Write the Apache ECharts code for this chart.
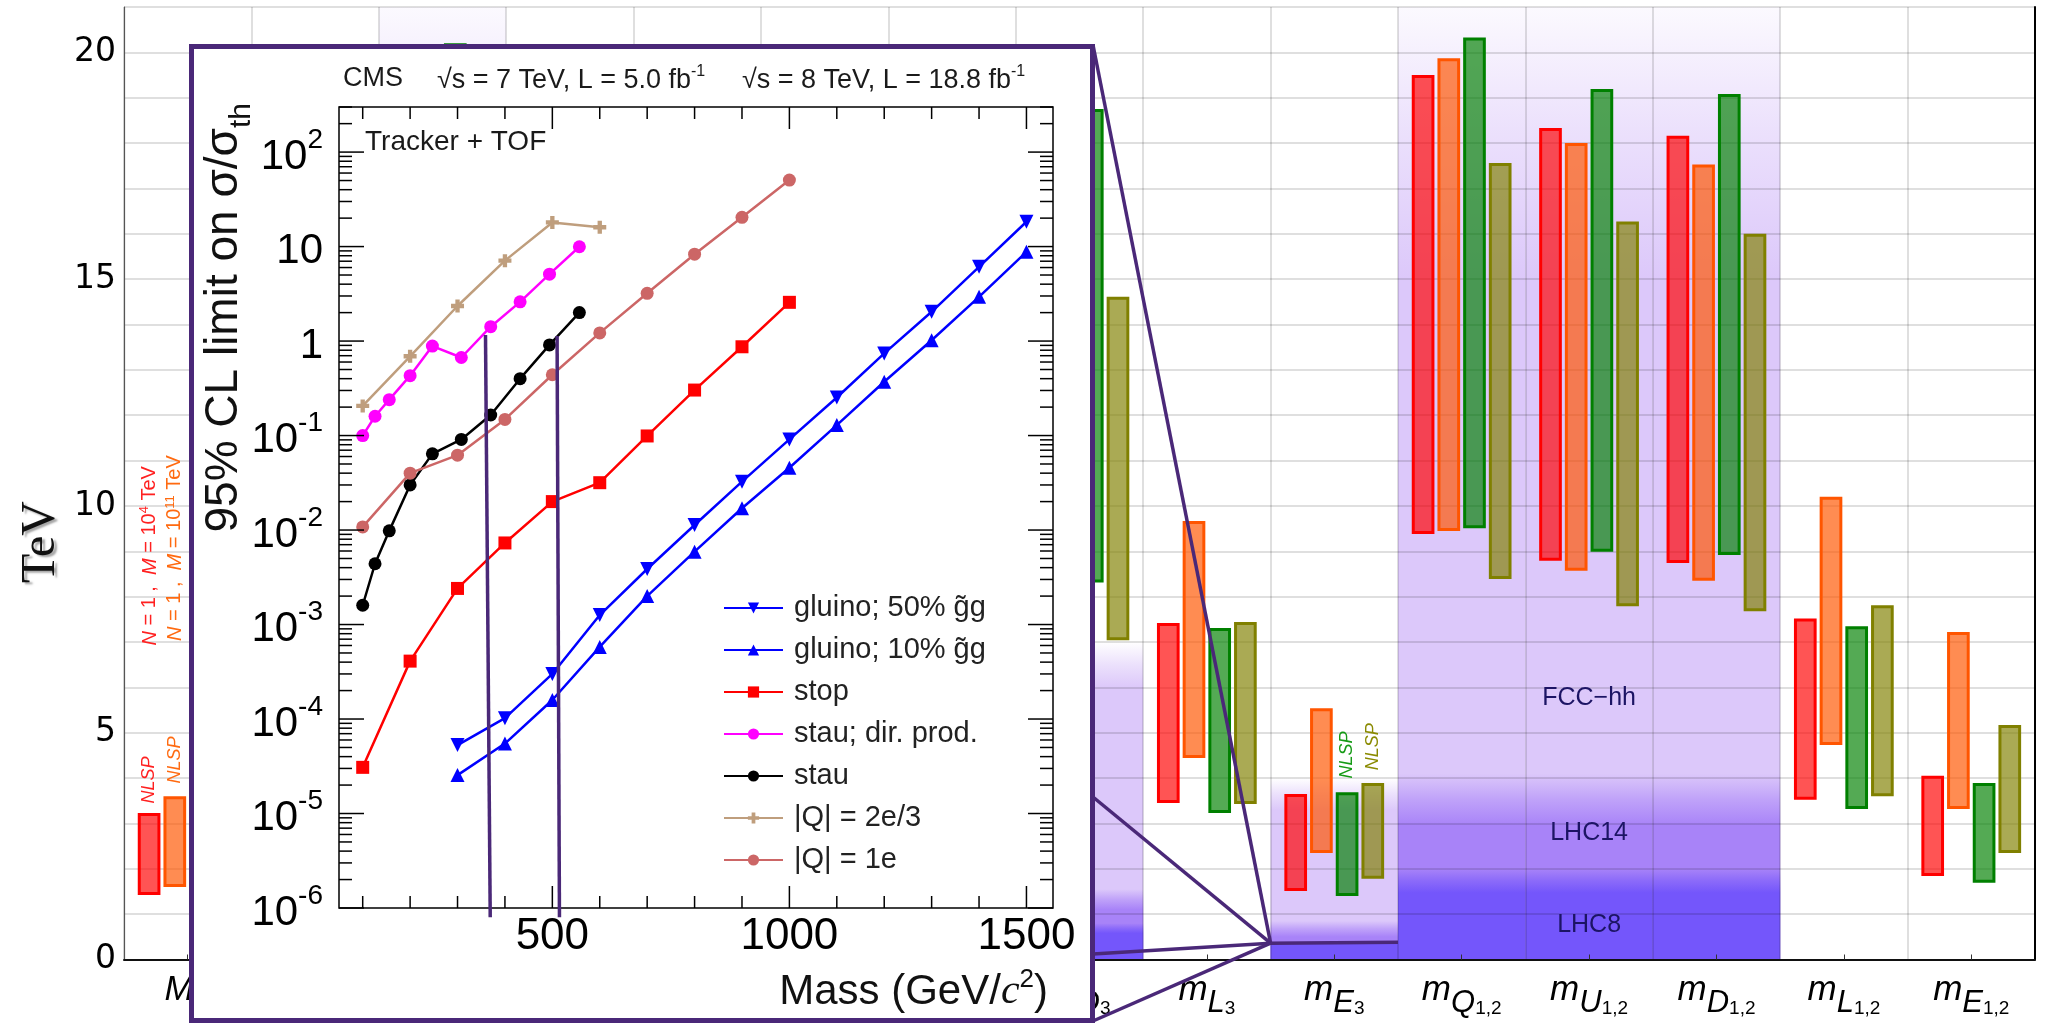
<!DOCTYPE html>
<html><head><meta charset="utf-8">
<script src="https://cdn.jsdelivr.net/npm/echarts@6/dist/echarts.min.js"></script>
<style>html,body{margin:0;padding:0;background:#fff}#c{width:2053px;height:1027px}</style>
</head><body><div id="c"></div>
<script>
// ================= MAIN CHART DATA =================
const catSym    = ['M','M','M','\u03bc','m','m','m','m','m','m','m','m','m','m','m'];
const catSub    = ['1','2','3','','A','Q','U','D','L','E','Q','U','D','L','E'];
const catSubSub = ['','','','','','3','3','3','3','3','1,2','1,2','1,2','1,2','1,2'];

// floating bars (TeV): low / high edge per category
const redLo = [1.42,2.6,8.0,3.0,3.0,7.5,7.0,8.0,3.45,1.51,9.38,8.79,8.74,3.52,1.84];
const redHi = [3.23,5.6,17.5,9.0,9.0,16.0,15.5,17.0,7.42,3.65,19.5,18.33,18.16,7.52,4.05];
const oraLo = [1.6,2.9,8.3,3.2,3.2,7.2,6.8,7.5,4.44,2.35,9.45,8.57,8.35,4.73,3.32];
const oraHi = [3.6,6.3,18.5,10.0,10.0,16.5,15.5,16.5,9.67,5.54,19.87,18.0,17.53,10.2,7.22];
const grnLo = [1.5,2.7,9.0,3.2,3.2,8.0,7.5,8.31,3.23,1.40,9.51,8.99,8.92,3.32,1.69];
const grnHi = [3.3,5.8,20.2,9.0,9.0,17.5,16.5,18.75,7.31,3.69,20.33,19.19,19.08,7.35,3.89];
const olvLo = [1.7,3.0,7.5,3.3,3.3,6.5,6.0,7.04,3.43,1.78,8.39,7.79,7.68,3.6,2.35];
const olvHi = [3.5,6.3,16.0,8.5,8.5,14.0,13.0,14.61,7.44,3.89,17.56,16.27,16.0,7.81,5.17];

// collider reach shading (TeV): fade start (hi) -> full colour (lo)
const fccHi  = [null,null,21.6,null,null,8.0,8.0,7.0,null,4.0,21.6,21.6,21.6,null,null];
const fccLo  = [null,null,15.0,null,null,7.0,7.0,6.0,null,3.3,15.0,15.0,15.0,null,null];
const l14Hi  = [null,null,4.1,null,null,2.0,2.0,1.55,null,0.85,4.1,4.1,4.1,null,null];
const l14Lo  = [null,null,2.95,null,null,1.5,1.5,1.1,null,0.5,2.95,2.95,2.95,null,null];
const l8Hi   = [null,null,2.0,null,null,1.0,1.0,0.8,null,0.40,2.0,2.0,2.0,null,null];
const l8Lo   = [null,null,1.47,null,null,0.8,0.8,0.58,null,0.36,1.47,1.47,1.47,null,null];

const regionNames = ['FCC\u2212hh','LHC14','LHC8'];
const regionCat = 11;
const regionY = [5.77,2.79,0.76];

// annotations: [category, bar index, TeV position, text id]
const annCat  = [0,0,9,9,0,0];
const annBar  = [0,1,2,3,0,1];
const annY    = [3.96,4.4,4.51,4.69,8.9,9.07];
const annText = ['NLSP','NLSP','NLSP','NLSP','{i|N} = 1 ,  {i|M} = 10{p|4} TeV','{i|N} = 1 ,  {i|M} = 10{p|11} TeV'];
const annColor= ['#ff2020','#ff6a10','#159a15','#8a8a00','#ff2020','#ff6a10'];

// ================= INSET (CMS) DATA =================
const gluMass  = [300,400,500,600,700,800,900,1000,1100,1200,1300,1400,1500];
const glu50Lim = [5.3e-5,1.02e-4,3.0e-4,1.26e-3,3.87e-3,0.0113,0.0325,0.091,0.253,0.74,2.04,6.1,18.3];
const glu10Lim = [2.55e-5,5.5e-5,1.59e-4,5.8e-4,2.0e-3,5.9e-3,0.017,0.0456,0.129,0.371,1.02,2.94,8.8];
const stopMass = [100,200,300,400,500,600,700,800,900,1000];
const stopLim  = [3.08e-5,4.1e-4,2.41e-3,7.3e-3,0.020,0.0317,0.099,0.303,0.87,2.57];
const stauMass = [100,126,156,200,247,308,370,432,494,557];
const stauDirLim = [0.10,0.16,0.24,0.43,0.885,0.67,1.42,2.6,5.1,9.95];
const stauLim  = [0.0016,0.0044,0.0098,0.030,0.064,0.091,0.165,0.40,0.91,2.0];
const q23Mass  = [100,200,300,400,500,600];
const q23Lim   = [0.206,0.69,2.35,7.1,18,16];
const q1Mass   = [100,200,300,400,500,600,700,800,900,1000];
const q1Lim    = [0.0108,0.040,0.062,0.148,0.44,1.22,3.2,8.3,20.4,50.6];
const insetNames = ['gluino; 50% g\u0303g','gluino; 10% g\u0303g','stop','stau; dir. prod.','stau','|Q| = 2e/3','|Q| = 1e'];
// stau mass-limit guide lines: [m1, lim1, m2, lim2]
const limitLines = [[359,1.16,369,8e-7],[510,1.13,515,8e-7]];
const IX_MIN = 50, IX_MAX = 1556, IY_MIN = 1e-6, IY_MAX = 300;

// zoom connector
const zoomCat = 9, zoomTeV = 0.36, zoomEndCat = 10, zoomEndTeV = 0.38;
const insetEdgeX = 1093, insetEdgeYs = [45,797,954,1021];

// ================= BUILD =================
const FONT = 'Liberation Sans';
const BAR_OFF = 0.108, BAR_PITCH = 0.2017, BAR_W = 0.178;
const barStyles = [['#ff0000','rgba(255,0,0,0.67)'],['#ff5500','rgba(255,85,0,0.68)'],['#008000','rgba(0,128,0,0.67)'],['#808000','rgba(128,128,0,0.67)']];
const barLo = [redLo,oraLo,grnLo,olvLo], barHi = [redHi,oraHi,grnHi,olvHi];

function barCenter(api, cat, b){
  const band = api.size([1,0])[0];
  const cx = api.coord([cat,0])[0];
  return cx - band/2 + band*(BAR_OFF + b*BAR_PITCH) + band*BAR_W/2;
}

const series = [];
// shading layers
const layerRGB = ['220,200,250','168,131,248','116,86,251'];
[[fccHi,fccLo],[l14Hi,l14Lo],[l8Hi,l8Lo]].forEach(([hiA,loA],L)=>{
  const data = [];
  hiA.forEach((h,i)=>{ if(h!=null) data.push([i,h,loA[i]]); });
  series.push({type:'custom', xAxisIndex:0, yAxisIndex:0, z:1, silent:true, clip:false,
    data, encode:{x:0,y:1},
    renderItem:(params, api)=>{
      const cat=api.value(0), hi=api.value(1), lo=api.value(2);
      const band=api.size([1,0])[0];
      const cx=api.coord([cat,0])[0];
      const yHi=api.coord([cat,hi])[1], yLo=api.coord([cat,lo])[1], y0=api.coord([cat,0])[1];
      const top=Math.max(yHi, params.coordSys.y);
      const c=layerRGB[L];
      return {type:'rect', z2:L, shape:{x:cx-band/2, y:top, width:band, height:y0-top},
        style:{fill:{type:'linear', x:0, y:yHi, x2:0, y2:yLo, global:true,
          colorStops:[{offset:0,color:'rgba('+c+',0)'},{offset:0.5,color:'rgba('+c+',0.55)'},{offset:1,color:'rgba('+c+',1)'}]}}};
    }});
});
// floating bars
for(let b=0;b<4;b++){
  series.push({type:'custom', xAxisIndex:0, yAxisIndex:0, z:3, silent:true,
    data: barLo[b].map((l,i)=>[i,l,barHi[b][i]]), encode:{x:0,y:[1,2]},
    renderItem:(params, api)=>{
      const cat=api.value(0), l=api.value(1), h=api.value(2);
      const band=api.size([1,0])[0];
      const cx=api.coord([cat,0])[0];
      const x0=cx-band/2+band*(BAR_OFF+b*BAR_PITCH), w=band*BAR_W;
      const yT=api.coord([cat,h])[1], yB=api.coord([cat,l])[1];
      return {type:'rect', shape:{x:x0+1.5,y:yT+1.5,width:w-3,height:yB-yT-3},
        style:{fill:barStyles[b][1], stroke:barStyles[b][0], lineWidth:3}};
    }});
}
// region labels
series.push({type:'custom', xAxisIndex:0, yAxisIndex:0, z:3, silent:true,
  data: regionY.map((y,k)=>[regionCat,y,k]), encode:{x:0,y:1},
  renderItem:(params, api)=>{
    const p=api.coord([api.value(0), api.value(1)]);
    return {type:'text', x:p[0], y:p[1], style:{text:regionNames[api.value(2)], fill:'#1c1464',
      fontSize:25, fontFamily:FONT, align:'center', verticalAlign:'middle'}};
  }});
// rotated annotations
series.push({type:'custom', xAxisIndex:0, yAxisIndex:0, z:3, silent:true,
  data: annY.map((y,k)=>[annCat[k],y,k]), encode:{x:0,y:1},
  renderItem:(params, api)=>{
    const k=api.value(2);
    const x=barCenter(api, annCat[k], annBar[k]);
    const y=api.coord([annCat[k], annY[k]])[1];
    const big = k>=4;
    return {type:'text', x:x, y:y, rotation:Math.PI/2,
      style:{text:annText[k], fill:annColor[k], fontSize: big?20:18, fontStyle: big?'normal':'italic',
        fontFamily:FONT, align:'center', verticalAlign:'middle',
        rich:{i:{fontStyle:'italic', fontSize:20, lineHeight:22, verticalAlign:'bottom', fill:annColor[k]},
              p:{fontSize:13, lineHeight:13, verticalAlign:'top', fill:annColor[k]}}}};
  }});

// ---- inset series ----
function lineSeries(name, xs, ys, color, symbol, rot, size){
  return {type:'line', name, xAxisIndex:1, yAxisIndex:2, z:10, silent:true,
    data: xs.map((x,i)=>[x,ys[i]]), symbol, symbolRotate:rot||0, symbolSize:size||13,
    showSymbol:true, showAllSymbol:true,
    lineStyle:{color, width:2.5}, itemStyle:{color, borderWidth:0}};
}
const plusPath = 'path://M4,0H8V4H12V8H8V12H4V8H0V4H4Z';
const s50 = lineSeries(insetNames[0], gluMass, glu50Lim, '#0000ff', 'triangle', 180, 14);
const s10 = lineSeries(insetNames[1], gluMass, glu10Lim, '#0000ff', 'triangle', 0, 14);
const sStop = lineSeries(insetNames[2], stopMass, stopLim, '#ff0000', 'rect', 0, 13);
sStop.markLine = {silent:true, symbol:['none','none'], label:{show:false},
  lineStyle:{color:'#000', type:[2,3], width:1.5}, data:[{yAxis:1}]};
const sStauD = lineSeries(insetNames[3], stauMass, stauDirLim, '#ff00ff', 'circle', 0, 13);
const sStau = lineSeries(insetNames[4], stauMass, stauLim, '#000000', 'circle', 0, 13);
const sQ23 = lineSeries(insetNames[5], q23Mass, q23Lim, '#bf9e7d', plusPath, 0, 13);
const sQ1 = lineSeries(insetNames[6], q1Mass, q1Lim, '#cc6666', 'circle', 0, 13);
series.push(s50, s10, sStop, sStauD, sStau, sQ23, sQ1);

// inset ticks (ROOT style, inward on all sides)
const yTicks = [];
for(let e=-6;e<=2;e++) for(let k=1;k<=9;k++){ const v=k*Math.pow(10,e); if(v<=IY_MAX*1.0001) yTicks.push([IX_MIN,v,k===1?1:0]); }
const xTicks = [];
for(let m=100;m<=1500;m+=100) xTicks.push([m,1,m%500===0?1:0]);
series.push({type:'custom', xAxisIndex:1, yAxisIndex:2, z:11, silent:true, clip:false,
  data:yTicks, encode:{x:0,y:1},
  renderItem:(params, api)=>{
    const v=api.value(1), major=api.value(2);
    const p=api.coord([IX_MIN,v]), q=api.coord([IX_MAX,v]);
    const len=major?25:13;
    return {type:'group', children:[
      {type:'line', shape:{x1:p[0],y1:p[1],x2:p[0]+len,y2:p[1]}, style:{stroke:'#000',lineWidth:1.5}},
      {type:'line', shape:{x1:q[0],y1:q[1],x2:q[0]-len,y2:q[1]}, style:{stroke:'#000',lineWidth:1.5}}]};
  }});
series.push({type:'custom', xAxisIndex:1, yAxisIndex:2, z:11, silent:true, clip:false,
  data:xTicks, encode:{x:0,y:1},
  renderItem:(params, api)=>{
    const m=api.value(0), major=api.value(2);
    const p=api.coord([m,IY_MIN]), q=api.coord([m,IY_MAX]);
    const len=major?22:12;
    return {type:'group', children:[
      {type:'line', shape:{x1:p[0],y1:p[1],x2:p[0],y2:p[1]-len}, style:{stroke:'#000',lineWidth:1.5}},
      {type:'line', shape:{x1:q[0],y1:q[1],x2:q[0],y2:q[1]+len}, style:{stroke:'#000',lineWidth:1.5}}]};
  }});

function catLabel(v, i){
  let s='{m|'+catSym[i]+'}';
  if(catSub[i]) s+='{s|'+catSub[i]+'}';
  if(catSubSub[i]) s+='{t|'+catSubSub[i]+'}';
  return s;
}

const option = {
  animation:false,
  backgroundColor:'#fff',
  textStyle:{fontFamily:FONT},
  grid:[
    {left:124, right:18, top:7, bottom:67.5, containLabel:false},
    {left:339, top:107, width:714, height:801, show:true, borderColor:'#000', borderWidth:1.5, backgroundColor:'transparent', z:9}
  ],
  xAxis:[
    {type:'category', gridIndex:0, data:catSym.map((s,i)=>'c'+i), boundaryGap:true, z:2,
     axisLine:{show:true, lineStyle:{color:'#111', width:2}},
     axisTick:{show:true, inside:true, length:5, alignWithLabel:true, lineStyle:{color:'#333'}},
     splitLine:{show:true, interval:0, lineStyle:{color:'rgba(0,0,0,0.17)', width:1.5}},
     axisLabel:{interval:0, margin:13, formatter:catLabel, color:'#000',
       rich:{m:{fontFamily:FONT, fontStyle:'italic', fontSize:35, lineHeight:34, verticalAlign:'top', color:'#000'},
             s:{fontFamily:FONT, fontStyle:'italic', fontSize:31, lineHeight:30, padding:[15,0,0,0], verticalAlign:'top', color:'#000'},
             t:{fontFamily:FONT, fontSize:19, lineHeight:18, padding:[27,0,0,0], verticalAlign:'top', color:'#000'}}}},
    {type:'value', gridIndex:1, min:IX_MIN, max:IX_MAX, interval:50, z:12,
     axisLine:{show:false}, axisTick:{show:false}, splitLine:{show:false},
     axisLabel:{margin:7, fontSize:44, fontFamily:FONT, color:'#000',
       formatter:v=>(Math.abs(v%500)<1e-6 && v>0 ? String(Math.round(v)) : '')}}
  ],
  yAxis:[
    {type:'value', gridIndex:0, min:0, max:21, interval:1, z:2,
     axisLine:{show:true, lineStyle:{color:'#555', width:1.2}},
     axisTick:{show:false},
     splitLine:{show:true, lineStyle:{color:'rgba(0,0,0,0.17)', width:1.5}},
     axisLabel:{margin:8, fontSize:33, fontFamily:'DejaVu Sans', color:'#000',
       formatter:v=>(v%5===0 ? String(v) : '')}},
    {type:'value', gridIndex:0, min:0, max:21, position:'right', z:2,
     axisLine:{show:true, lineStyle:{color:'#000', width:2}}, axisTick:{show:false},
     axisLabel:{show:false}, splitLine:{show:false}},
    {type:'log', gridIndex:1, min:IY_MIN, max:IY_MAX, logBase:10, z:12,
     axisLine:{show:false}, axisTick:{show:false}, splitLine:{show:false},
     axisLabel:{margin:16, color:'#000',
       formatter:v=>{ const l=Math.log10(v), e=Math.round(l); if(Math.abs(l-e)>1e-6) return '';
         if(e===0) return '{b|1}'; if(e===1) return '{b|10}'; return '{b|10}{p|'+e+'}'; },
       rich:{b:{fontSize:42, lineHeight:52, verticalAlign:'bottom', fontFamily:FONT, color:'#000'},
             p:{fontSize:28, lineHeight:28, verticalAlign:'top', fontFamily:FONT, color:'#000'}}}}
  ],
  legend:{orient:'vertical', left:718, top:588, itemWidth:59, itemHeight:14, itemGap:12, z:12,
    selectedMode:false, data:insetNames,
    textStyle:{fontSize:29, lineHeight:30, color:'#222', fontFamily:FONT, padding:[0,0,0,6]}},
  series
};

const chart = echarts.init(document.getElementById('c'), null, {renderer:'canvas', width:2053, height:1027});
chart.setOption(option);

// ---------- graphic (inset frame, texts, connectors) ----------
function T(x,y,text,o){ o=o||{};
  return {type:'text', x, y, rotation:o.rot||0, z:o.z||12, silent:true,
    style:Object.assign({text, fill:o.fill||'#1a1a1a', fontSize:o.size||26, fontFamily:o.family||FONT,
      align:o.align||'left', verticalAlign:o.va||'middle'}, o.extra||{})};
}
const supRich = {sup:{fontSize:16, lineHeight:15, verticalAlign:'top', fontFamily:FONT, fill:'#1a1a1a'},
                 a:{fontSize:27, lineHeight:30, verticalAlign:'bottom', fontFamily:FONT, fill:'#1a1a1a'}};
const P = chart.convertToPixel({gridIndex:0}, [zoomCat, zoomTeV]);
const band = chart.convertToPixel({xAxisIndex:0}, 1) - chart.convertToPixel({xAxisIndex:0}, 0);
const px = P[0] - band/2, py = P[1];
const E = chart.convertToPixel({gridIndex:0}, [zoomEndCat, zoomEndTeV]);
const ex = E[0] - band/2, ey = E[1];
const LC = '#4a2878';
const elements = [
  {type:'rect', z:5, silent:true, shape:{x:191.5, y:46.5, width:901, height:974}, style:{fill:'#fff', stroke:LC, lineWidth:5}},
  T(343,79,'CMS',{size:27}),
  T(437,79,'{a|\u221As = 7 TeV, L = 5.0 fb}{sup|-1}',{size:27, extra:{rich:supRich}}),
  T(742,79,'{a|\u221As = 8 TeV, L = 18.8 fb}{sup|-1}',{size:27, extra:{rich:supRich}}),
  T(365,142,'Tracker + TOF',{size:28}),
  T(224,103,'{a|95% CL limit on \u03c3/\u03c3}{b|th}',{rot:Math.PI/2, align:'right', extra:{fill:'#111', rich:{
      a:{fontSize:46, lineHeight:46, verticalAlign:'top', fontFamily:FONT, fill:'#111'},
      b:{fontSize:30, lineHeight:30, padding:[26,0,0,0], verticalAlign:'top', fontFamily:FONT, fill:'#111'}}}}),
  T(1048,990,'{a|Mass (GeV/}{c|c}{p|2}{a|)}',{align:'right', extra:{fill:'#111', rich:{
      a:{fontSize:42, lineHeight:46, verticalAlign:'bottom', fontFamily:FONT, fill:'#111'},
      c:{fontSize:42, lineHeight:46, verticalAlign:'bottom', fontFamily:'Liberation Serif', fontStyle:'italic', fill:'#111'},
      p:{fontSize:26, lineHeight:26, verticalAlign:'top', fontFamily:FONT, fill:'#111'}}}}),
  T(41,542,'TeV',{rot:Math.PI/2, align:'center', size:48, family:'Liberation Serif', z:2,
      extra:{fill:'#111', textShadowColor:'rgba(0,0,0,0.35)', textShadowBlur:2, textShadowOffsetX:3, textShadowOffsetY:2}})
];
limitLines.forEach(l=>{
  const a=chart.convertToPixel({gridIndex:1},[l[0],l[1]]), b=chart.convertToPixel({gridIndex:1},[l[2],l[3]]);
  elements.push({type:'line', z:13, silent:true, shape:{x1:a[0],y1:a[1],x2:b[0],y2:b[1]}, style:{stroke:LC, lineWidth:3.5}});
});
insetEdgeYs.forEach(y=>{
  elements.push({type:'line', z:13, silent:true, shape:{x1:px,y1:py,x2:insetEdgeX,y2:y}, style:{stroke:LC, lineWidth:3.5}});
});
elements.push({type:'line', z:13, silent:true, shape:{x1:px,y1:py,x2:ex,y2:ey}, style:{stroke:LC, lineWidth:3.5}});
chart.setOption({graphic:{elements}});
</script>
</body></html>
